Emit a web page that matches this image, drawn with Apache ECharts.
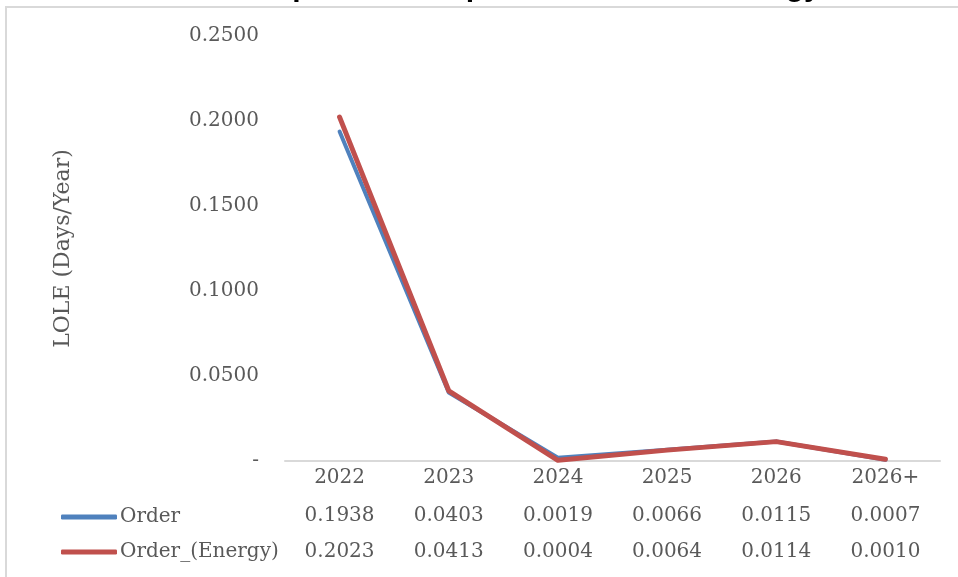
<!DOCTYPE html>
<html>
<head>
<meta charset="utf-8">
<script src="https://cdn.jsdelivr.net/npm/echarts@6/dist/echarts.min.js"></script>
<style>
  html, body { margin: 0; padding: 0; background: #fff; }
  #chart { width: 958px; height: 577px; }
</style>
</head>
<body>
<div id="chart"></div>
<script>
const years = ['2022', '2023', '2024', '2025', '2026', '2026+'];
const order = [0.1938, 0.0403, 0.0019, 0.0066, 0.0115, 0.0007];
const orderEnergy = [0.2023, 0.0413, 0.0004, 0.0064, 0.0114, 0.0010];
const yTicks = { min: 0, max: 0.25, interval: 0.05 };

const font = '"DejaVu Serif", serif';
const grey = '#595959';

// data table rows drawn as extra category axes under the plot
function tableAxis(values, offset) {
  return {
    type: 'category',
    data: years,
    position: 'bottom',
    offset: offset,
    axisLine: { show: false },
    axisTick: { show: false },
    axisLabel: {
      color: grey, fontFamily: font, fontSize: 20, margin: 8,
      formatter: (v, i) => values[i].toFixed(4)
    }
  };
}

const chart = echarts.init(document.getElementById('chart'));
chart.setOption({
  animation: false,
  textStyle: { fontFamily: font },
  grid: { left: 285, right: 18, top: 36, bottom: 116, containLabel: false },
  legend: {
    orient: 'vertical',
    left: 56,
    top: 502,
    itemGap: 15,
    itemWidth: 56,
    itemHeight: 5,
    icon: 'roundRect',
    textStyle: { color: grey, fontFamily: font, fontSize: 20, padding: [0, 0, 0, -2] },
    data: ['Order', 'Order_(Energy)']
  },
  graphic: [
    {
      type: 'rect',
      shape: { x: 6, y: 7, width: 1000, height: 1000 },
      style: { fill: '#fff', stroke: '#d9d9d9', lineWidth: 2 },
      silent: true,
      z: -10
    },
    {
      type: 'text',
      left: 'center',
      top: -27,
      z: -20,
      style: {
        text: 'LOLE Comparison: Sequential Order vs. Energy',
        font: 'bold 30px "Liberation Sans"',
        fill: '#000'
      }
    }
  ],
  xAxis: [
    {
      type: 'category',
      data: years,
      axisLine: { lineStyle: { color: '#d9d9d9', width: 2 } },
      axisTick: { show: false },
      axisLabel: { color: grey, fontFamily: font, fontSize: 20, margin: 7 }
    },
    tableAxis(order, 37),
    tableAxis(orderEnergy, 73)
  ],
  yAxis: {
    type: 'value',
    min: yTicks.min,
    max: yTicks.max,
    interval: yTicks.interval,
    name: 'LOLE (Days/Year)',
    nameLocation: 'middle',
    nameGap: 211,
    nameTextStyle: { color: grey, fontFamily: font, fontSize: 22 },
    axisLine: { show: false },
    axisTick: { show: false },
    splitLine: { show: false },
    axisLabel: {
      color: grey, fontFamily: font, fontSize: 20, margin: 26,
      formatter: v => (v === 0 ? '-' : v.toFixed(4))
    }
  },
  series: [
    {
      name: 'Order',
      type: 'line',
      data: order,
      symbol: 'none',
      color: '#4f81bd',
      lineStyle: { width: 4, cap: 'round', join: 'round' }
    },
    {
      name: 'Order_(Energy)',
      type: 'line',
      data: orderEnergy,
      symbol: 'none',
      color: '#c0504d',
      lineStyle: { width: 5, cap: 'round', join: 'round' }
    }
  ]
});
window.addEventListener('resize', chart.resize);
</script>
</body>
</html>
